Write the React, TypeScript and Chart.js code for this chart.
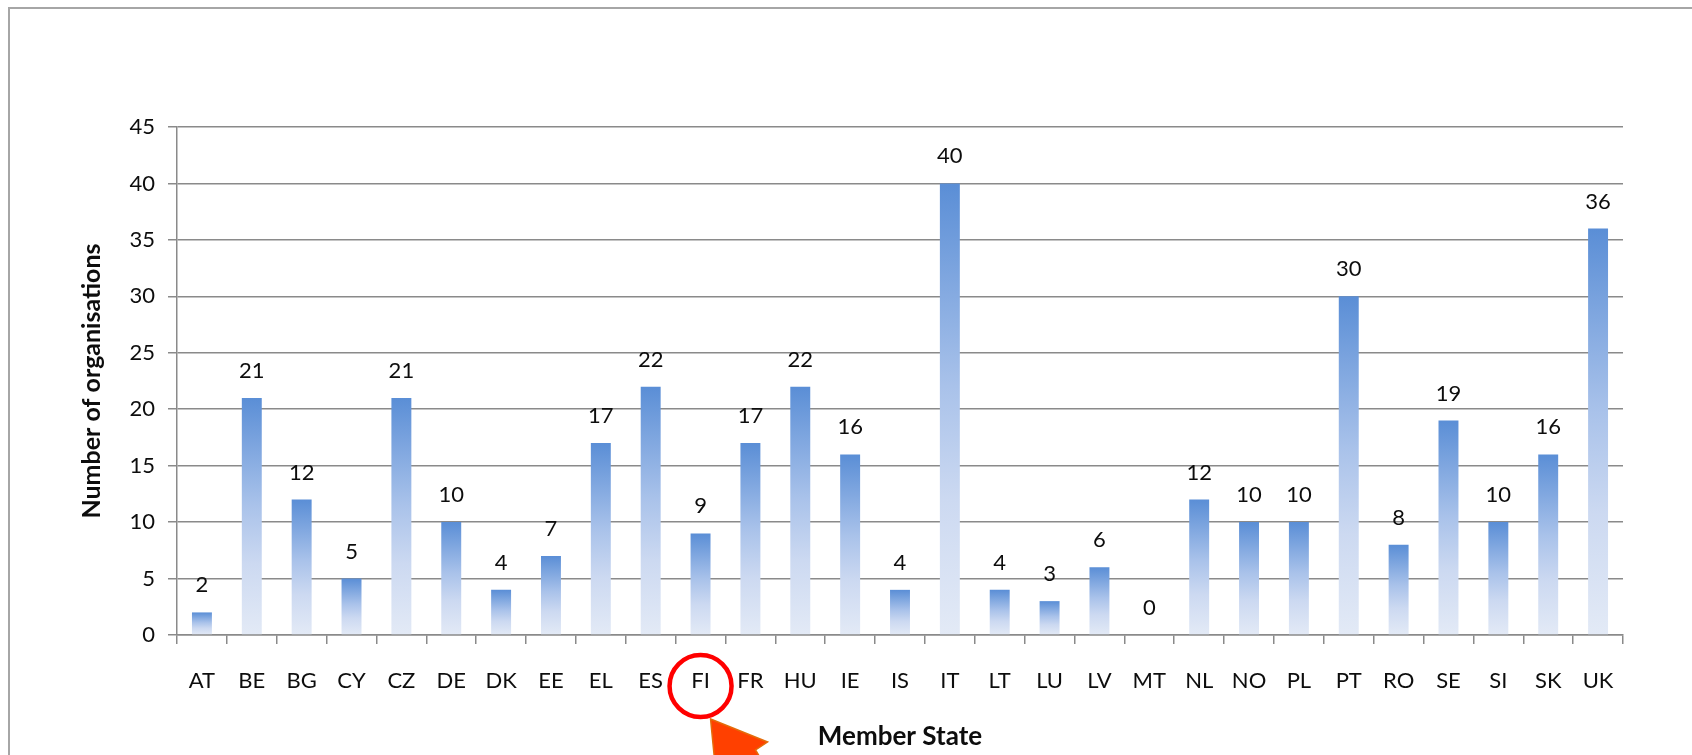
import React, { useEffect, useRef } from "react";
import { Chart, registerables } from "chart.js";

Chart.register(...registerables);

const categories = ["AT","BE","BG","CY","CZ","DE","DK","EE","EL","ES","FI","FR","HU","IE","IS","IT","LT","LU","LV","MT","NL","NO","PL","PT","RO","SE","SI","SK","UK"];
const organisations = [2,21,12,5,21,10,4,7,17,22,9,17,22,16,4,40,4,3,6,0,12,10,10,30,8,19,10,16,36];
const yTicksMax = 45;
const yTicksStep = 5;
const yTitle = "Number of organisations";
const xTitle = "Member State";
const highlighted = "FI";

const FONT = "Lato, 'Open Sans', sans-serif";
const GRID = "#8a8a8a";
const TEXT = "#0d0d0d";

const overlay = {
  id: "overlay",
  beforeDraw(chart: any) {
    const c = chart.ctx;
    c.save();
    c.fillStyle = "#ffffff";
    c.fillRect(0, 0, chart.width, chart.height);
    c.strokeStyle = "#a6a6a6";
    c.lineWidth = 2;
    c.beginPath();
    c.moveTo(9, chart.height + 5);
    c.lineTo(9, 8);
    c.lineTo(chart.width + 5, 8);
    c.stroke();
    c.restore();
  },
  afterDraw(chart: any) {
    const c = chart.ctx;
    const area = chart.chartArea;
    const meta = chart.getDatasetMeta(0);
    c.save();
    // value labels
    c.fillStyle = TEXT;
    c.font = `22px ${FONT}`;
    c.textAlign = "center";
    c.textBaseline = "alphabetic";
    meta.data.forEach((bar: any, i: number) => {
      c.fillText(String(organisations[i]), bar.x, bar.y - 20);
    });
    // axis titles
    c.font = `bold 25px ${FONT}`;
    c.save();
    c.translate(92, (area.top + area.bottom) / 2);
    c.rotate(-Math.PI / 2);
    c.textBaseline = "middle";
    c.fillText(yTitle, 0, 0);
    c.restore();
    c.font = `bold 26px ${FONT}`;
    c.textBaseline = "middle";
    c.fillText(xTitle, (area.left + area.right) / 2, 737);
    // highlight circle around a category label
    const idx = categories.indexOf(highlighted);
    const cx = chart.scales.x.getPixelForValue(idx);
    c.strokeStyle = "#ff0000";
    c.lineWidth = 4.5;
    c.beginPath();
    c.arc(cx, 686, 31, 0, Math.PI * 2);
    c.stroke();
    // arrow
    c.fillStyle = "#ff4000";
    c.strokeStyle = "#e46c0a";
    c.lineWidth = 1.5;
    c.beginPath();
    c.moveTo(cx + 10, 719);
    c.lineTo(cx + 67, 742);
    c.lineTo(cx + 55, 750);
    c.lineTo(cx + 70, 775);
    c.lineTo(cx + 30, 775);
    c.lineTo(cx + 15, 770);
    c.closePath();
    c.fill();
    c.stroke();
    c.restore();
  },
};

export default function App() {
  const ref = useRef<HTMLCanvasElement | null>(null);
  useEffect(() => {
    if (!ref.current) return;
    const chart = new Chart(ref.current, {
      type: "bar",
      data: {
        labels: categories,
        datasets: [
          {
            data: organisations,
            barPercentage: 0.4,
            categoryPercentage: 1,
            borderWidth: 0,
            backgroundColor: (ctx: any) => {
              const ch = ctx.chart;
              if (!ch.chartArea || !ch.scales.y) return "#8fb0e2";
              const y = ch.scales.y;
              const top = y.getPixelForValue(organisations[ctx.dataIndex]);
              const bottom = y.getPixelForValue(0);
              if (bottom - top < 1) return "#e3eaf6";
              const g = ch.ctx.createLinearGradient(0, top, 0, bottom);
              g.addColorStop(0, "#5a8ed6");
              g.addColorStop(0.45, "#a9c2ea");
              g.addColorStop(0.7, "#ccd9f1");
              g.addColorStop(1, "#e3eaf6");
              return g;
            },
          },
        ],
      },
      options: {
        responsive: false,
        animation: false,
        devicePixelRatio: 1,
        layout: { padding: { top: 127, right: 69, bottom: 0, left: 0 } },
        plugins: { legend: { display: false }, tooltip: { enabled: false } },
        scales: {
          x: {
            afterFit: (s: any) => { s.height = 120; },
            grid: { display: true, drawOnChartArea: false, drawTicks: true, tickLength: 9, color: GRID, lineWidth: 1.5, offset: true },
            border: { display: true, color: GRID, width: 1.5 },
            ticks: { color: TEXT, font: { family: FONT, size: 22 }, padding: 24, maxRotation: 0, autoSkip: false },
          },
          y: {
            min: 0,
            max: yTicksMax,
            afterFit: (s: any) => { s.width = 177; },
            grid: { color: GRID, lineWidth: 1.5, tickLength: 9, drawTicks: true },
            border: { display: true, color: GRID, width: 1.5 },
            ticks: { stepSize: yTicksStep, color: TEXT, font: { family: FONT, size: 22 }, padding: 13 },
          },
        },
      },
      plugins: [overlay],
    });
    return () => chart.destroy();
  }, []);
  return (
    <div style={{ position: "absolute", left: 0, top: 0, width: 1692, height: 755, overflow: "hidden" }}>
      <canvas ref={ref} width={1692} height={755} style={{ display: "block", width: 1692, height: 755 }} />
    </div>
  );
}
